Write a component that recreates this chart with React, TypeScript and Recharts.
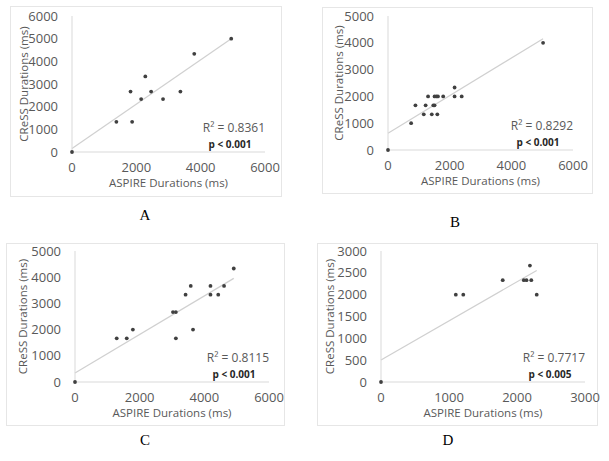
import React from 'react';
import { ScatterChart, Scatter, XAxis, YAxis, ReferenceLine, Label } from 'recharts';

// Panel A
const aAspire = [0, 1380, 1820, 1870, 2150, 2280, 2460, 2830, 3370, 3800, 4950];
const aCress = [0, 1333, 2667, 1333, 2333, 3333, 2667, 2333, 2667, 4333, 5000];
// Panel B
const bAspire = [0, 750, 890, 1160, 1220, 1300, 1420, 1470, 1510, 1510, 1570, 1600, 1620, 1790, 2160, 2160, 2390, 5030];
const bCress = [0, 1000, 1667, 1333, 1667, 2000, 1333, 1667, 1667, 2000, 2000, 1333, 2000, 2000, 2333, 2000, 2000, 4000];
// Panel C
const cAspire = [0, 1290, 1600, 1790, 3030, 3120, 3120, 3420, 3580, 3650, 4190, 4190, 4430, 4610, 4910];
const cCress = [0, 1667, 1667, 2000, 2667, 2667, 1667, 3333, 3667, 2000, 3667, 3333, 3333, 3667, 4333];
// Panel D
const dAspire = [0, 1100, 1210, 1790, 2100, 2140, 2190, 2210, 2290];
const dCress = [0, 2000, 2000, 2333, 2333, 2333, 2667, 2333, 2000];

const aTicksX = [0, 2000, 4000, 6000];
const aTicksY = [0, 1000, 2000, 3000, 4000, 5000, 6000];
const bTicksX = [0, 2000, 4000, 6000];
const bTicksY = [0, 1000, 2000, 3000, 4000, 5000];
const cTicksX = [0, 2000, 4000, 6000];
const cTicksY = [0, 1000, 2000, 3000, 4000, 5000];
const dTicksX = [0, 1000, 2000, 3000];
const dTicksY = [0, 500, 1000, 1500, 2000, 2500, 3000];

const rSquared = ['R² = 0.8361', 'R² = 0.8292', 'R² = 0.8115', 'R² = 0.7717'];
const pValues = ['p < 0.001', 'p < 0.001', 'p < 0.001', 'p < 0.005'];
const panelLetters = ['A', 'B', 'C', 'D'];

const FONT = '"Open Sans", sans-serif';
const GREY = '#595959';
const AXIS = '#d9d9d9';
const PAD = 12; // svg is drawn a bit larger than the box so edge labels aren't clipped

// least squares trendline, like Excel's linear trendline
function fit(xs: number[], ys: number[]) {
  const n = xs.length;
  const mx = xs.reduce((s, v) => s + v, 0) / n;
  const my = ys.reduce((s, v) => s + v, 0) / n;
  let sxy = 0, sxx = 0;
  xs.forEach((x, i) => {
    sxy += (x - mx) * (ys[i] - my);
    sxx += (x - mx) * (x - mx);
  });
  const slope = sxy / sxx;
  const icpt = my - slope * mx;
  const x0 = Math.min(...xs);
  const x1 = Math.max(...xs);
  return [{ x: x0, y: icpt + slope * x0 }, { x: x1, y: icpt + slope * x1 }];
}

interface PanelProps {
  xs: number[];
  ys: number[];
  ticksX: number[];
  ticksY: number[];
  box: { left: number; top: number; width: number; height: number };
  plot: { left: number; top: number; right: number; bottom: number };
  idx: number;
  yLabelX: number; // page x of the rotated y label's centre
  letterPos: { x: number; y: number };
}

const Panel: React.FC<PanelProps> = ({ xs, ys, ticksX, ticksY, box, plot, idx, yLabelX, letterPos }) => {
  const data = xs.map((x, i) => ({ x, y: ys[i] }));
  const trend = fit(xs, ys);
  const cl = box.left - PAD;
  const ct = box.top - PAD;
  const cw = box.width + PAD * 2;
  const ch = box.height + PAD * 2;
  const yW = plot.left - cl;
  const xH = ct + ch - plot.bottom;
  const pw = plot.right - plot.left;
  return (
    <>
      <div
        style={{
          position: 'absolute',
          left: box.left,
          top: box.top,
          width: box.width,
          height: box.height,
          border: '1px solid #e6e6e6',
          boxSizing: 'border-box',
          background: '#fff',
        }}
      />
      <div style={{ position: 'absolute', left: cl, top: ct, width: cw, height: ch }}>
        <ScatterChart
          width={cw}
          height={ch}
          margin={{ top: plot.top - ct, right: cl + cw - plot.right, bottom: 0, left: 0 }}
        >
          <XAxis
            type="number"
            dataKey="x"
            domain={[ticksX[0], ticksX[ticksX.length - 1]]}
            ticks={ticksX}
            height={xH}
            tickLine={false}
            axisLine={{ stroke: AXIS }}
            tick={{ fill: GREY, fontSize: 13, fontFamily: FONT }}
            tickMargin={5}
            interval={0}
          >
            <Label
              content={({ viewBox }: any) => (
                <text
                  x={viewBox.x + viewBox.width / 2}
                  y={viewBox.y + 35}
                  textAnchor="middle"
                  fill={GREY}
                  fontSize={11.5}
                  fontFamily={FONT}
                >
                  ASPIRE Durations (ms)
                </text>
              )}
            />
          </XAxis>
          <YAxis
            type="number"
            dataKey="y"
            domain={[ticksY[0], ticksY[ticksY.length - 1]]}
            ticks={ticksY}
            width={yW}
            tickLine={false}
            axisLine={{ stroke: AXIS }}
            tick={{ fill: GREY, fontSize: 13, fontFamily: FONT }}
            tickMargin={8}
            interval={0}
          >
            <Label
              content={({ viewBox }: any) => {
                const lx = yLabelX - cl;
                const ly = viewBox.y + viewBox.height / 2;
                return (
                  <text
                    x={lx}
                    y={ly}
                    transform={`rotate(-90, ${lx}, ${ly})`}
                    textAnchor="middle"
                    dominantBaseline="central"
                    fill={GREY}
                    fontSize={11.5}
                    fontFamily={FONT}
                  >
                    CReSS Durations (ms)
                  </text>
                );
              }}
            />
          </YAxis>
          <ReferenceLine segment={trend} stroke="#d0d0d0" strokeWidth={1.2} ifOverflow="extendDomain" />
          <Scatter
            data={data}
            fill="#404040"
            isAnimationActive={false}
            shape={(p: any) => <circle cx={p.cx} cy={p.cy} r={1.9} fill="#404040" />}
          />
        </ScatterChart>
      </div>
      <div
        style={{
          position: 'absolute',
          left: plot.left + pw - 72,
          top: plot.bottom - 32,
          width: 72,
          textAlign: 'right',
          fontFamily: FONT,
          fontSize: 12,
          color: GREY,
          lineHeight: '15px',
          whiteSpace: 'nowrap',
        }}
      >
        {rSquared[idx]}
      </div>
      <div
        style={{
          position: 'absolute',
          left: plot.left + pw - 63,
          top: plot.bottom - 14,
          width: 56,
          textAlign: 'center',
          fontFamily: FONT,
          fontSize: 10,
          fontWeight: 'bold',
          color: '#262626',
          lineHeight: '12px',
          whiteSpace: 'nowrap',
        }}
      >
        {pValues[idx]}
      </div>
      <div
        style={{
          position: 'absolute',
          left: letterPos.x - 20,
          top: letterPos.y - 9,
          width: 40,
          textAlign: 'center',
          fontFamily: '"Liberation Serif", serif',
          fontSize: 15,
          color: '#000',
          lineHeight: '18px',
        }}
      >
        {panelLetters[idx]}
      </div>
    </>
  );
};

export default function App() {
  return (
    <div style={{ position: 'fixed', left: 0, top: 0, width: 609, height: 461, background: '#fff' }}>
      <Panel
        xs={aAspire}
        ys={aCress}
        ticksX={aTicksX}
        ticksY={aTicksY}
        box={{ left: 10, top: 6, width: 272, height: 191 }}
        plot={{ left: 72, top: 16, right: 265, bottom: 152 }}
        idx={0}
        yLabelX={23}
        letterPos={{ x: 145, y: 215 }}
      />
      <Panel
        xs={bAspire}
        ys={bCress}
        ticksX={bTicksX}
        ticksY={bTicksY}
        box={{ left: 322, top: 7, width: 271, height: 187 }}
        plot={{ left: 388, top: 16, right: 573, bottom: 150 }}
        idx={1}
        yLabelX={338}
        letterPos={{ x: 455, y: 222 }}
      />
      <Panel
        xs={cAspire}
        ys={cCress}
        ticksX={cTicksX}
        ticksY={cTicksY}
        box={{ left: 6, top: 243, width: 279, height: 183 }}
        plot={{ left: 75, top: 251, right: 269, bottom: 382 }}
        idx={2}
        yLabelX={22}
        letterPos={{ x: 145, y: 440 }}
      />
      <Panel
        xs={dAspire}
        ys={dCress}
        ticksX={dTicksX}
        ticksY={dTicksY}
        box={{ left: 317, top: 243, width: 281, height: 183 }}
        plot={{ left: 381, top: 251, right: 585, bottom: 382 }}
        idx={3}
        yLabelX={329}
        letterPos={{ x: 448, y: 440 }}
      />
    </div>
  );
}
